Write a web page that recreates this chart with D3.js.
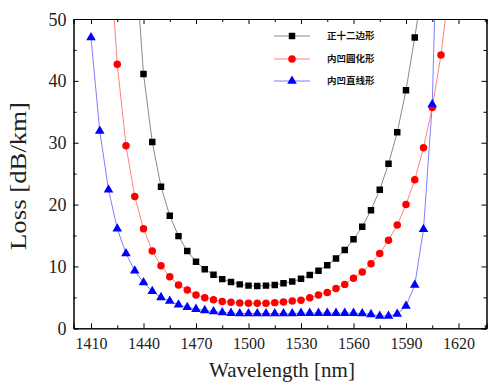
<!DOCTYPE html>
<html>
<head>
<meta charset="utf-8">
<script src="https://cdn.jsdelivr.net/npm/d3@7"></script>
<style>
  html, body { margin: 0; padding: 0; background: #fff; }
  svg { display: block; }
</style>
</head>
<body>
<svg id="chart" width="493" height="388"></svg>
<script>
// ---- data ----
const seriesNames = ["正十二边形", "内凹圆化形", "内凹直线形"];

const wlBlack = [1435,1440,1445,1450,1455,1460,1465,1470,1475,1480,1485,1490,1495,1500,1505,1510,1515,1520,1525,1530,1535,1540,1545,1550,1555,1560,1565,1570,1575,1580,1585,1590,1595,1600];
const lossBlack = [61,41.1,30.1,22.9,18.2,14.9,12.5,10.75,9.55,8.65,7.95,7.5,7.1,6.9,6.85,6.9,7.0,7.3,7.55,8.0,8.6,9.3,10.2,11.3,12.65,14.4,16.4,19.1,22.4,26.6,31.7,38.5,47.0,56];

const wlRed = [1420,1425,1430,1435,1440,1445,1450,1455,1460,1465,1470,1475,1480,1485,1490,1495,1500,1505,1510,1515,1520,1525,1530,1535,1540,1545,1550,1555,1560,1565,1570,1575,1580,1585,1590,1595,1600,1605,1610,1615];
const lossRed = [64,42.7,29.5,21.3,16.1,12.5,10.1,8.35,7.0,6.2,5.4,4.95,4.6,4.35,4.2,4.1,4.05,4.05,4.05,4.15,4.25,4.4,4.55,4.95,5.4,5.8,6.45,7.1,8.1,9.1,10.45,12.1,14.25,16.7,20.0,24.0,29.2,35.7,44.2,56];

const wlBlue = [1410,1415,1420,1425,1430,1435,1440,1445,1450,1455,1460,1465,1470,1475,1480,1485,1490,1495,1500,1505,1510,1515,1520,1525,1530,1535,1540,1545,1550,1555,1560,1565,1570,1575,1580,1585,1590,1595,1600,1605,1610];
const lossBlue = [47.0,31.9,22.4,16.1,12.1,9.3,7.4,6.0,5.0,4.4,3.8,3.4,3.1,2.9,2.7,2.55,2.45,2.4,2.4,2.4,2.4,2.4,2.4,2.4,2.45,2.45,2.45,2.45,2.45,2.45,2.45,2.4,2.25,2.0,2.0,2.3,3.6,7.0,16.0,36.2,88];

const xTicks = [1410,1440,1470,1500,1530,1560,1590,1620];
const xMinorTicks = [1425,1455,1485,1515,1545,1575,1605,1635];
const yTicks = [0,10,20,30,40,50];
const yMinorTicks = [5,15,25,35,45];

// ---- layout ----
const svg = d3.select("#chart");
const L = 73.5, R = 486.5, T = 19, B = 328.3;
const x = d3.scaleLinear().domain([1400, 1636]).range([L, R]);
const y = d3.scaleLinear().domain([0, 50]).range([B, T]);

const serif = "'Liberation Serif','Times New Roman',serif";
const cjk = "'Noto Sans CJK SC','Noto Sans CJK JP',sans-serif";

svg.append("defs").append("clipPath").attr("id", "clip")
  .append("rect").attr("x", L).attr("y", T).attr("width", R - L).attr("height", B - T);

const series = [
  {name: seriesNames[0], xs: wlBlack, ys: lossBlack, color: "#000000", line: "#8a8a8a", sym: d3.symbolSquare, size: 42},
  {name: seriesNames[1], xs: wlRed, ys: lossRed, color: "#ff0000", line: "#ff8080", sym: d3.symbolCircle, size: 44},
  {name: seriesNames[2], xs: wlBlue, ys: lossBlue, color: "#0000ff", line: "#8080ff", sym: d3.symbolTriangle, size: 40}
];

const plot = svg.append("g").attr("clip-path", "url(#clip)");
const lineGen = d3.line().x(d => x(d[0])).y(d => y(d[1]));

series.forEach(s => {
  const pts = s.xs.map((v, i) => [v, s.ys[i]]);
  plot.append("path").datum(pts)
    .attr("d", lineGen).attr("fill", "none")
    .attr("stroke", s.line).attr("stroke-width", 1);
});
series.forEach(s => {
  const pts = s.xs.map((v, i) => [v, s.ys[i]]).filter(p => p[1] <= 50.5);
  plot.selectAll(null).data(pts).enter().append("path")
    .attr("d", d3.symbol().type(s.sym).size(s.size))
    .attr("transform", d => `translate(${x(d[0])},${y(d[1])})`)
    .attr("fill", s.color);
});

// ---- axes ----
const axB = svg.append("g").attr("transform", `translate(0,${B})`)
  .call(d3.axisBottom(x).tickValues(xTicks).tickSize(-5).tickPadding(9).tickFormat(d3.format("d")));
const axBm = svg.append("g").attr("transform", `translate(0,${B})`)
  .call(d3.axisBottom(x).tickValues(xMinorTicks).tickSize(-3).tickFormat(""));
const axT = svg.append("g").attr("transform", `translate(0,${T})`)
  .call(d3.axisTop(x).tickValues(xTicks).tickSize(-5).tickFormat(""));
const axTm = svg.append("g").attr("transform", `translate(0,${T})`)
  .call(d3.axisTop(x).tickValues(xMinorTicks).tickSize(-3).tickFormat(""));
const axL = svg.append("g").attr("transform", `translate(${L},0)`)
  .call(d3.axisLeft(y).tickValues(yTicks).tickSize(-5).tickPadding(7));
const axLm = svg.append("g").attr("transform", `translate(${L},0)`)
  .call(d3.axisLeft(y).tickValues(yMinorTicks).tickSize(-3).tickFormat(""));
const axR = svg.append("g").attr("transform", `translate(${R},0)`)
  .call(d3.axisRight(y).tickValues(yTicks).tickSize(-5).tickFormat(""));
const axRm = svg.append("g").attr("transform", `translate(${R},0)`)
  .call(d3.axisRight(y).tickValues(yMinorTicks).tickSize(-3).tickFormat(""));

[axB, axBm, axT, axTm, axL, axLm, axR, axRm].forEach(g => {
  g.select(".domain").attr("stroke", "#000").attr("stroke-width", 1);
  g.selectAll(".tick line").attr("stroke", "#000").attr("stroke-width", 1);
  g.selectAll("text").attr("font-family", serif).attr("fill", "#222");
});
axB.selectAll("text").attr("font-size", 16);
axL.selectAll("text").attr("font-size", 18).attr("dy", "0.34em");

// ---- titles ----
svg.append("text")
  .attr("x", (L + R) / 2 + 2).attr("y", 377)
  .attr("text-anchor", "middle").attr("font-family", serif).attr("font-size", 21)
  .attr("fill", "#222").text("Wavelength [nm]");

svg.append("text")
  .attr("transform", "translate(26,176) rotate(-90)")
  .attr("text-anchor", "middle").attr("font-family", serif).attr("font-size", 23)
  .attr("textLength", 148).attr("lengthAdjust", "spacingAndGlyphs")
  .attr("fill", "#222").text("Loss [dB/km]");

// ---- legend ----
const legY = [36, 59, 81];
const leg = svg.append("g");
series.forEach((s, i) => {
  const g = leg.append("g").attr("transform", `translate(0,${legY[i]})`);
  g.append("line").attr("x1", 274).attr("x2", 310).attr("y1", 0).attr("y2", 0)
    .attr("stroke", s.line).attr("stroke-width", 1);
  g.append("path").attr("d", d3.symbol().type(s.sym).size(s.size))
    .attr("transform", "translate(292,0)").attr("fill", s.color);
  g.append("text").attr("x", 327).attr("y", 0).attr("dy", "0.35em")
    .attr("font-family", cjk).attr("font-size", 9.5).attr("font-weight", "bold")
    .attr("fill", "#111").text(s.name);
});
</script>
</body>
</html>
